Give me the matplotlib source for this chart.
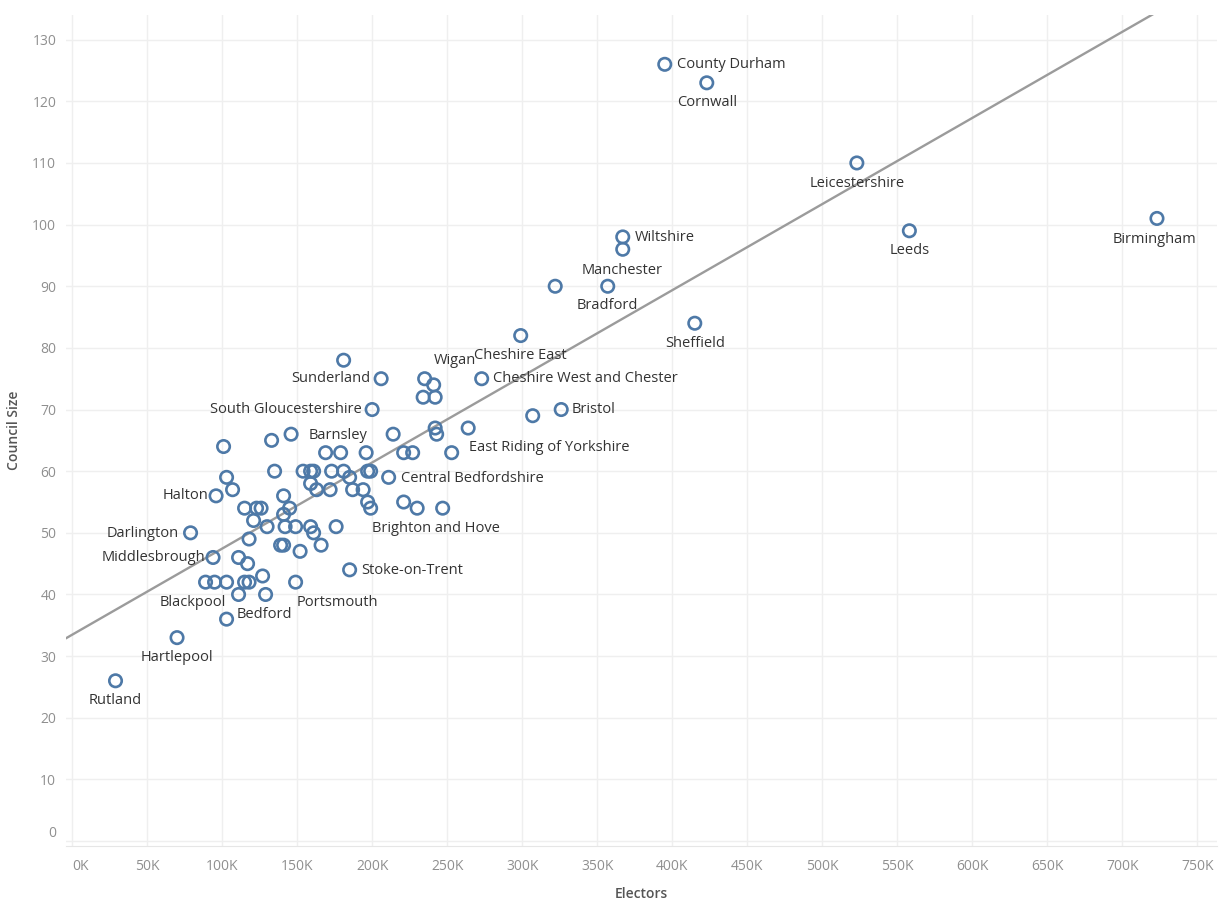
import numpy as np
import matplotlib
matplotlib.use("Agg")
import matplotlib.pyplot as plt
from matplotlib.ticker import FuncFormatter

plt.rcParams['font.family'] = ['Open Sans', 'DejaVu Sans']

# ---- data (electors in thousands, council size) ----
labeled_names = ["County Durham", "Cornwall", "Leicestershire", "Leeds", "Birmingham",
                 "Wiltshire", "Manchester", "Bradford", "Sheffield", "Cheshire East",
                 "Sunderland", "Wigan", "Cheshire West and Chester", "South Gloucestershire",
                 "Bristol", "Barnsley", "East Riding of Yorkshire", "Central Bedfordshire",
                 "Halton", "Brighton and Hove", "Darlington", "Middlesbrough",
                 "Stoke-on-Trent", "Blackpool", "Bedford", "Portsmouth", "Hartlepool", "Rutland"]
labeled_electors = [395, 423, 523, 558, 723, 367, 367, 357, 415, 299,
                    206, 235, 273, 200, 326, 146, 253, 211,
                    96, 247, 79, 94, 185, 89, 103, 149, 70, 29]
labeled_size = [126, 123, 110, 99, 101, 98, 96, 90, 84, 82,
                75, 75, 75, 70, 70, 66, 63, 59,
                56, 54, 50, 46, 44, 42, 36, 42, 33, 26]

other_electors = [322, 181, 241, 234, 242, 307, 242, 243, 264, 214, 133, 101,
                  169, 179, 196, 221, 227,
                  135, 154, 159, 161, 173, 181, 197, 199, 103, 185, 159,
                  107, 163, 172, 187, 194, 141, 197, 221,
                  115, 123, 126, 145, 199, 230, 141, 121,
                  130, 142, 149, 159, 176, 161, 118, 139, 141, 166, 152,
                  111, 117, 127, 95, 103, 115, 118, 111, 129]
other_size = [90, 78, 74, 72, 72, 69, 67, 66, 67, 66, 65, 64,
              63, 63, 63, 63, 63,
              60, 60, 60, 60, 60, 60, 60, 60, 59, 59, 58,
              57, 57, 57, 57, 57, 56, 55, 55,
              54, 54, 54, 54, 54, 54, 53, 52,
              51, 51, 51, 51, 51, 50, 49, 48, 48, 48, 47,
              46, 45, 43, 42, 42, 42, 42, 40, 40]

x_ticks = list(range(0, 751, 50))
y_ticks = list(range(0, 131, 10))

# ---- label placement (pixel offsets from the mark, and alignment) ----
label_style = {
    "County Durham": (12, 0, "left", "center"),
    "Cornwall": (0, -20, "center", "center"),
    "Leicestershire": (0, -21, "center", "center"),
    "Leeds": (0, -20, "center", "center"),
    "Birmingham": (-2, -21, "center", "center"),
    "Wiltshire": (12, -1, "left", "center"),
    "Manchester": (-1, -21, "center", "center"),
    "Bradford": (0, -19, "center", "center"),
    "Sheffield": (0, -20, "center", "center"),
    "Cheshire East": (0, -20, "center", "center"),
    "Sunderland": (-11, 0, "right", "center"),
    "Wigan": (30, 18, "center", "center"),
    "Cheshire West and Chester": (11, 0, "left", "center"),
    "South Gloucestershire": (-10, 0, "right", "center"),
    "Bristol": (10, 0, "left", "center"),
    "Barnsley": (18, -1, "left", "center"),
    "East Riding of Yorkshire": (17, 5, "left", "center"),
    "Central Bedfordshire": (12, -1, "left", "center"),
    "Halton": (-8, 0, "right", "center"),
    "Brighton and Hove": (-7, -20, "center", "center"),
    "Darlington": (-12, -1, "right", "center"),
    "Middlesbrough": (-8, 0, "right", "center"),
    "Stoke-on-Trent": (12, -1, "left", "center"),
    "Blackpool": (-13, -20, "center", "center"),
    "Bedford": (10, 5, "left", "center"),
    "Portsmouth": (42, -20, "center", "center"),
    "Hartlepool": (0, -20, "center", "center"),
    "Rutland": (0, -20, "center", "center"),
}

W, H = 1227, 900
fig = plt.figure(figsize=(W / 100, H / 100), dpi=100)
ax = fig.add_axes([66 / W, 1 - 846 / H, (1217 - 66) / W, (846 - 15) / H])

ax.set_xlim(-4, 763)
ax.set_ylim(-0.8, 134)

grid_c = "#efefef"
ax.set_xticks(x_ticks)
ax.set_yticks(y_ticks)
ax.grid(True, color=grid_c, linewidth=1.0)
ax.set_axisbelow(True)
for s in ["top", "right", "left"]:
    ax.spines[s].set_visible(False)
ax.spines["bottom"].set_color("#e6e6e6")
ax.tick_params(axis="both", length=0, colors="#8f8f8f", labelsize=10, pad=7)
ax.tick_params(axis="x", pad=9)
ax.xaxis.set_major_formatter(FuncFormatter(lambda v, p: f"{v:.0f}K"))

fig.canvas.draw()
xt = ax.get_xticklabels()
xt[0].set_horizontalalignment("left")
yt = ax.get_yticklabels()
yt[0].set_verticalalignment("bottom")

# trend line (least squares fit over all councils)
all_x = np.array(labeled_electors + other_electors, dtype=float)
all_y = np.array(labeled_size + other_size, dtype=float)
slope, intercept = np.polyfit(all_x, all_y, 1)
xl = np.array([-10, 800])
ax.plot(xl, intercept + slope * xl, color="#9b9b9b", linewidth=1.7, zorder=2)

mc = "#4e79a7"
ax.scatter(other_electors, other_size, s=80, facecolors="none", edgecolors=mc,
           linewidths=1.9, zorder=3)
ax.scatter(labeled_electors, labeled_size, s=80, facecolors="none", edgecolors=mc,
           linewidths=1.9, zorder=3)

for name, xv, yv in zip(labeled_names, labeled_electors, labeled_size):
    dx, dy, ha, va = label_style[name]
    ax.annotate(name, (xv, yv), xytext=(dx, dy), textcoords="offset pixels",
                ha=ha, va=va, fontsize=10.5, color="#333333", zorder=4)

ax.set_xlabel("Electors", fontsize=10, color="#555555", fontweight="semibold", labelpad=10)
ax.set_ylabel("Council Size", fontsize=10, color="#555555", fontweight="semibold", labelpad=8)

fig.savefig("out.png", dpi=100)
